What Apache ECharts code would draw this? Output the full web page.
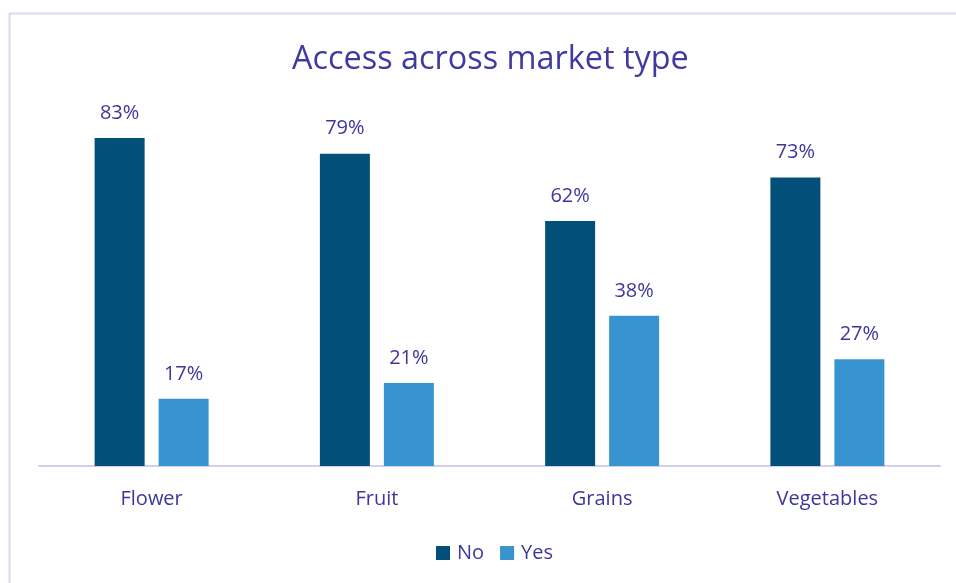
<!DOCTYPE html>
<html><head><meta charset="utf-8">
<script src="https://cdn.jsdelivr.net/npm/echarts@6/dist/echarts.min.js"></script>
<style>html,body{margin:0;padding:0;background:#fff}#c{width:956px;height:583px}</style>
</head><body><div id="c"></div>
<script>
const categories = ['Flower', 'Fruit', 'Grains', 'Vegetables'];
const noValues = [83, 79, 62, 73];
const yesValues = [17, 21, 38, 27];
const seriesNames = ['No', 'Yes'];

const chart = echarts.init(document.getElementById('c'));
const txt = '#3d379c';
const font = 'Open Sans';
chart.setOption({
  backgroundColor: '#ffffff',
  animation: false,
  graphic: [{
    type: 'rect', shape: {x: 9.5, y: 13.5, width: 1000, height: 700},
    style: {fill: 'none', stroke: '#dcd9f2', lineWidth: 2}, silent: true, z: -1
  }],
  title: {
    text: 'Access across market type', left: 287, top: 39,
    textStyle: {color: '#3f3aa2', fontFamily: font, fontSize: 32.4, fontWeight: 'normal'}
  },
  legend: {
    data: seriesNames, top: 538, left: 431, itemWidth: 14, itemHeight: 14, itemGap: 16,
    icon: 'rect',
    textStyle: {color: txt, fontFamily: font, fontSize: 20, padding: [0, 0, 0, 2]}
  },
  grid: {left: 39, right: 16, top: 70.8, bottom: 117},
  xAxis: {
    type: 'category', data: categories,
    axisLine: {lineStyle: {color: '#d3d0ee', width: 2}},
    axisTick: {show: false},
    axisLabel: {color: txt, fontFamily: font, fontSize: 20, margin: 23}
  },
  yAxis: {type: 'value', min: 0, max: 100, show: false, splitLine: {show: false}},
  series: [
    {name: seriesNames[0], type: 'bar', data: noValues, barWidth: 50, barGap: '28%',
     itemStyle: {color: '#02507a'},
     label: {show: true, position: 'top', distance: 15, formatter: '{c}%', color: txt, fontFamily: font, fontSize: 20}},
    {name: seriesNames[1], type: 'bar', data: yesValues, barWidth: 50,
     itemStyle: {color: '#3894d1'},
     label: {show: true, position: 'top', distance: 15, formatter: '{c}%', color: txt, fontFamily: font, fontSize: 20}}
  ]
});
</script></body></html>
